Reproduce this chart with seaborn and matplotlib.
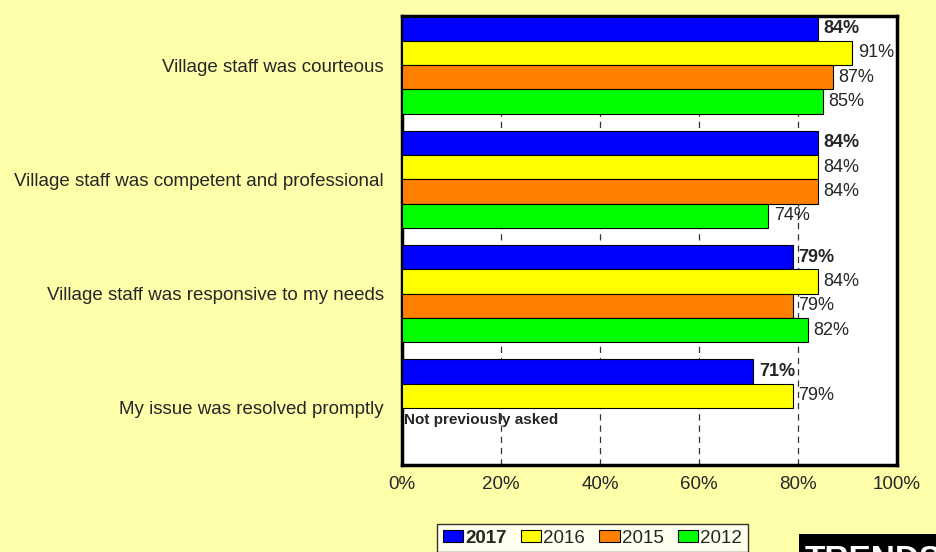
import numpy as np
import pandas as pd
import seaborn as sns
import matplotlib.pyplot as plt
from matplotlib.patches import Rectangle

questions = ['Village staff was courteous',
             'Village staff was competent and professional',
             'Village staff was responsive to my needs',
             'My issue was resolved promptly']
years = ['2017', '2016', '2015', '2012']
v2017 = [84, 84, 79, 71]
v2016 = [91, 84, 84, 79]
v2015 = [87, 84, 79, np.nan]
v2012 = [85, 74, 82, np.nan]
colors = ['#0000FF', '#FFFF00', '#FF8000', '#00FF00']
bg = '#FFFFAA'

rows = []
for yr, vals in zip(years, [v2017, v2016, v2015, v2012]):
    for q, v in zip(questions, vals):
        rows.append({'question': q, 'year': yr, 'pct': v})
df = pd.DataFrame(rows)

sns.set_style('white')
plt.rcParams['font.family'] = ['Liberation Sans', 'DejaVu Sans']

fig = plt.figure(figsize=(9.36, 5.52), dpi=100, facecolor=bg)
ax = fig.add_axes([402 / 936, 1 - 465 / 552, 495 / 936, 449 / 552])
ax.set_facecolor('white')

sns.barplot(data=df, y='question', x='pct', hue='year', hue_order=years,
            order=questions, palette=colors, orient='h', width=0.85,
            edgecolor='black', linewidth=0.8, saturation=1, ax=ax, zorder=3)

ax.set_xlim(0, 100)
ax.set_ylim(3.5, -0.43)
ax.set_xticks([0, 20, 40, 60, 80, 100])
ax.set_xticklabels([f'{t}%' for t in [0, 20, 40, 60, 80, 100]], fontsize=13.5)
ax.tick_params(axis='x', length=0, pad=8)
ax.tick_params(axis='y', length=0, pad=13, labelsize=13.5)
ax.set_xlabel('')
ax.set_ylabel('')
for x in [20, 40, 60, 80]:
    ax.axvline(x, color='#333333', lw=0.9, ls=(0, (5, 4)), zorder=1)
for s in ax.spines.values():
    s.set_color('black')
    s.set_linewidth(2.5)

for i, cont in enumerate(ax.containers):
    ax.bar_label(cont, fmt='{:.0f}%', padding=4, fontsize=13,
                 fontweight='bold' if i == 0 else 'normal')

ax.text(0.4, 3.106, 'Not previously asked', fontsize=11, fontweight='bold',
        va='center', ha='left', zorder=4)

handles, labels = ax.get_legend_handles_labels()
ax.get_legend().remove()
leg = fig.legend(handles, labels, ncol=4, loc='upper left',
                 bbox_to_anchor=(437 / 936, 1 - 524 / 552), fontsize=13.5,
                 frameon=True, fancybox=False, edgecolor='black',
                 handlelength=1.1, handleheight=0.6, handletextpad=0.1,
                 columnspacing=0.75, borderpad=0.3, borderaxespad=0)
leg.get_frame().set_linewidth(1)
leg.get_texts()[0].set_fontweight('bold')

# black "TRENDS" badge running off the bottom-right corner
fig.patches.append(Rectangle((799 / 936, 0), 1, 1 - 534 / 552,
                             transform=fig.transFigure, facecolor='black',
                             edgecolor='none', zorder=5))
fig.text(805 / 936, 1 - 569 / 552, 'TRENDS', color='white', fontsize=24,
         fontweight='bold', ha='left', va='baseline', zorder=6)

fig.savefig('out.png', dpi=100, facecolor=bg)
